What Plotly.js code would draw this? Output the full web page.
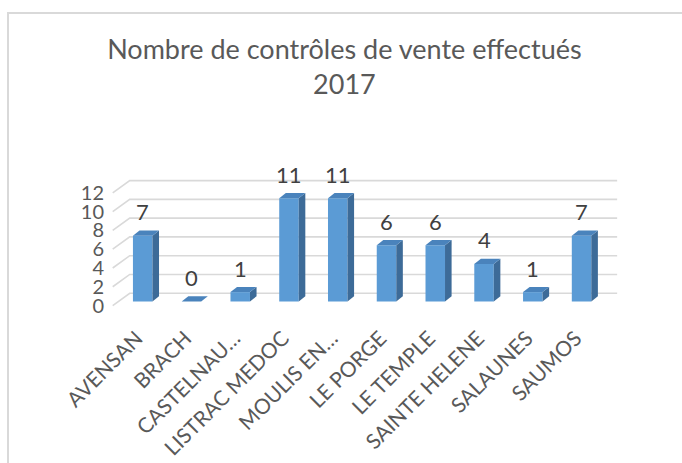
<!DOCTYPE html>
<html>
<head>
<meta charset="utf-8">
<script src="https://cdn.plot.ly/plotly-3.0.1.min.js"></script>
<style>
  body { margin: 0; background: #fff; }
  #chart { position: absolute; left: 0; top: 0; width: 682px; height: 463px; }
  #frame { position: absolute; left: 7px; top: 12px; width: 700px; height: 500px;
           border-top: 2px solid #d9d9d9; border-left: 2px solid #d9d9d9; pointer-events: none; }
</style>
</head>
<body>
<div id="chart"></div>
<div id="frame"></div>
<script>
// ---- data ----
const categories = ["AVENSAN", "BRACH", "CASTELNAU…", "LISTRAC MEDOC", "MOULIS EN…",
                    "LE PORGE", "LE TEMPLE", "SAINTE HELENE", "SALAUNES", "SAUMOS"];
const values = [7, 0, 1, 11, 11, 6, 6, 4, 1, 7];
const yTicks = [0, 2, 4, 6, 8, 10, 12];
const titleText = "Nombre de contrôles de vente effectués<br>2017";

// ---- 3D look parameters (in axis units) ----
const barW = 0.4;        // front face width
const depthX = 0.135;    // bar side depth (x units)
const depthY = 0.55;     // bar top depth (y units)
const floorFrontY = -0.43, floorBackY = 0.88;
const wallFrontX = -0.615, wallBackX = -0.266, wallRightX = 9.73;

const xIdx = categories.map((c, i) => i);
const FONT = "Lato, 'Open Sans', sans-serif";

const shapes = [];
// perspective gridlines
yTicks.forEach(v => {
  shapes.push({
    type: "path", xref: "x", yref: "y", layer: "below",
    path: `M ${wallFrontX},${v + floorFrontY} L ${wallBackX},${v + floorBackY} L ${wallRightX},${v + floorBackY}`,
    line: { color: "#d9d9d9", width: 1.6 }
  });
});
// bar side and top faces
values.forEach((v, i) => {
  const r = i + barW / 2, l = i - barW / 2;
  shapes.push({
    type: "path", xref: "x", yref: "y", layer: "above",
    path: `M ${r},0 L ${r + depthX},${depthY} L ${r + depthX},${v + depthY} L ${r},${v} Z`,
    fillcolor: "#3d6b98", line: { width: 0 }
  });
  shapes.push({
    type: "path", xref: "x", yref: "y", layer: "above",
    path: `M ${l},${v} L ${r},${v} L ${r + depthX},${v + depthY} L ${l + depthX},${v + depthY} Z`,
    fillcolor: "#4a83bc", line: { width: 0 }
  });
});

const annotations = values.map((v, i) => ({
  x: i, y: v, xref: "x", yref: "y", text: String(v), showarrow: false,
  yanchor: "middle", yshift: 24,
  font: { family: FONT, size: 22, color: "#404040" }
}));

const trace = {
  type: "bar", x: xIdx, y: values, width: barW,
  marker: { color: "#5b9bd5", line: { width: 0 } },
  hoverinfo: "skip"
};

const layout = {
  width: 682, height: 463,
  margin: { l: 111, r: 59, t: 156, b: 154 },
  paper_bgcolor: "rgba(0,0,0,0)", plot_bgcolor: "rgba(0,0,0,0)",
  showlegend: false,
  title: {
    text: titleText, x: 0.505, xanchor: "center", y: 0.872, yanchor: "top",
    font: { family: FONT, size: 27, color: "#595959" }
  },
  xaxis: {
    range: [-0.65, 9.85], tickmode: "array", tickvals: xIdx, ticktext: categories,
    tickangle: -45, showgrid: false, zeroline: false, showline: false, ticks: "",
    ticklabelstandoff: 12, ticklabelshift: -6,
    tickfont: { family: FONT, size: 21, color: "#595959" }, fixedrange: true
  },
  yaxis: {
    range: [-0.8, 15.5], tickmode: "array",
    tickvals: yTicks.map(v => v + floorFrontY), ticktext: yTicks.map(String),
    showgrid: false, zeroline: false, showline: false, ticks: "",
    ticklabelstandoff: 6,
    tickfont: { family: FONT, size: 20, color: "#595959" }, fixedrange: true
  },
  shapes: shapes,
  annotations: annotations
};

Plotly.newPlot("chart", [trace], layout, { displayModeBar: false, staticPlot: true });
</script>
</body>
</html>
